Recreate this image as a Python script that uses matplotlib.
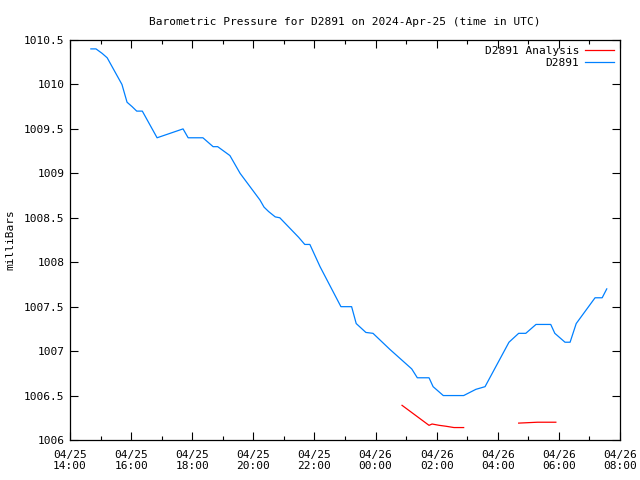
import matplotlib
matplotlib.use("Agg")
import matplotlib.pyplot as plt
import matplotlib.dates as mdates
import numpy as np
import pandas as pd

plt.rcParams['font.family'] = ['DejaVu Sans Mono']

base = pd.Timestamp("2024-04-25 14:00")

# D2891 observations (times relative to 04/25 14:00, "day+HH:MM")
obs_times = ["0 14:41", "0 14:51", "0 15:03", "0 15:13", "0 15:42", "0 15:52", "0 16:02",
             "0 16:11", "0 16:22", "0 16:51", "0 17:42", "0 17:52", "0 18:21", "0 18:41",
             "0 18:50", "0 19:14", "0 19:34", "0 20:13", "0 20:21", "0 20:30", "0 20:43",
             "0 20:52", "0 21:29", "0 21:41", "0 21:51", "0 22:11", "0 22:52", "0 23:13",
             "0 23:22", "0 23:41", "0 23:55", "1 00:28", "1 01:11", "1 01:22", "1 01:45",
             "1 01:53", "1 02:13", "1 02:53", "1 03:17", "1 03:35", "1 04:22", "1 04:41",
             "1 04:55", "1 05:15", "1 05:44", "1 05:52", "1 06:12", "1 06:22", "1 06:34",
             "1 07:11", "1 07:25", "1 07:34"]
obs_pres = [1010.4, 1010.4, 1010.35, 1010.3, 1010.0, 1009.8, 1009.75,
            1009.7, 1009.7, 1009.4, 1009.5, 1009.4, 1009.4, 1009.3,
            1009.3, 1009.2, 1009.0, 1008.7, 1008.62, 1008.57, 1008.51,
            1008.5, 1008.28, 1008.2, 1008.2, 1007.95, 1007.5, 1007.5,
            1007.31, 1007.21, 1007.2, 1007.02, 1006.8, 1006.7, 1006.7,
            1006.6, 1006.5, 1006.5, 1006.57, 1006.6, 1007.1, 1007.2,
            1007.2, 1007.3, 1007.3, 1007.2, 1007.1, 1007.1, 1007.31,
            1007.6, 1007.6, 1007.7]

# D2891 Analysis (NaN marks the gap between segments)
ana_times = ["1 00:52", "1 01:45", "1 01:51", "1 02:05", "1 02:18", "1 02:34", "1 02:53",
             "1 03:10",
             "1 04:41", "1 05:18", "1 05:54"]
ana_pres = [1006.39, 1006.165, 1006.18, 1006.165, 1006.155, 1006.14, 1006.14,
            np.nan,
            1006.19, 1006.2, 1006.2]

def to_dt(lst):
    out = []
    for s in lst:
        d, hm = s.split()
        out.append(pd.Timestamp("2024-04-25 " + hm) + pd.Timedelta(days=int(d)))
    return out

obs_dt = to_dt(obs_times)
ana_dt = to_dt(ana_times)

fig = plt.figure(figsize=(6.4, 4.8), dpi=100)
ax = fig.add_axes([70/640, 40/480, 550/640, 400/480])

ax.plot(ana_dt, ana_pres, color="#ff0000", lw=0.9, label="D2891 Analysis")
ax.plot(obs_dt, obs_pres, color="#0080ff", lw=0.9, label="D2891")

ax.set_xlim(base, base + pd.Timedelta(hours=18))
ax.set_ylim(1006, 1010.5)

ax.xaxis.set_major_locator(mdates.HourLocator(byhour=range(0, 24, 2)))
ax.xaxis.set_minor_locator(mdates.HourLocator())
ax.xaxis.set_major_formatter(mdates.DateFormatter("%m/%d\n%H:%M"))
ax.set_yticks(np.arange(1006, 1010.51, 0.5))
ax.set_yticklabels(["1006", "1006.5", "1007", "1007.5", "1008", "1008.5",
                    "1009", "1009.5", "1010", "1010.5"])

ax.tick_params(which="both", direction="in", top=True, right=True, labelsize=8, width=0.8)
ax.tick_params(which="major", length=6)
ax.tick_params(axis="x", which="major", pad=7)
ax.tick_params(axis="y", which="major", pad=4)
ax.tick_params(which="minor", length=3)
for s in ax.spines.values():
    s.set_linewidth(0.9)

ax.set_ylabel("milliBars", fontsize=8, labelpad=6)
ax.set_title("Barometric Pressure for D2891 on 2024-Apr-25 (time in UTC)", fontsize=8, pad=11)

leg = ax.legend(loc="upper right", frameon=False, markerfirst=False, fontsize=8,
                handlelength=2.6, borderaxespad=0.15, labelspacing=0.15, handletextpad=0.5)
for t in leg.get_texts():
    t.set_ha("right")

fig.savefig("out.png", dpi=100)
